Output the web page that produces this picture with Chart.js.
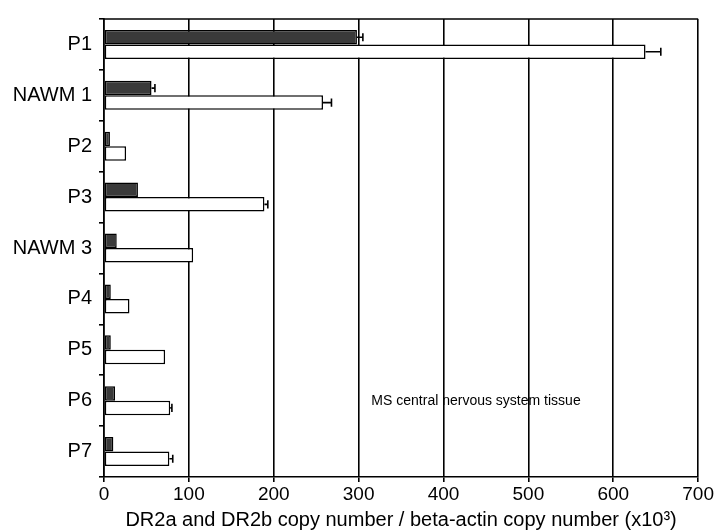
<!DOCTYPE html>
<html>
<head>
<meta charset="utf-8">
<script src="https://cdn.jsdelivr.net/npm/chart.js@4/dist/chart.umd.min.js"></script>
<style>
html, body { margin: 0; padding: 0; background: #fff; }
#wrap { width: 715px; height: 532px; }
</style>
</head>
<body>
<div id="wrap"><canvas id="chart" width="715" height="532"></canvas></div>
<script>
const samples = ['P1', 'NAWM 1', 'P2', 'P3', 'NAWM 3', 'P4', 'P5', 'P6', 'P7'];
const dr2aValues = [298, 56, 7, 40, 15, 8, 8, 13, 11];
const dr2aErrors = [7, 4, 0, 0, 0, 0, 0, 0, 0];
const dr2bValues = [638, 258, 26, 189, 105, 30, 72, 78, 77];
const dr2bErrors = [18, 10, 0, 4, 0, 0, 0, 2, 4];
const xTicks = [0, 100, 200, 300, 400, 500, 600, 700];
const noteText = 'MS central nervous system tissue';
const noteAt = { x: 315, row: 'P6' };

const fontFamily = '"Liberation Sans", Arial, Helvetica, sans-serif';
Chart.defaults.color = '#000';
Chart.defaults.font.family = fontFamily;

// black whiskers to the right of each bar
const errorBars = {
  id: 'errorBars',
  afterDatasetsDraw(chart) {
    const ctx = chart.ctx;
    const xScale = chart.scales.x;
    ctx.save();
    ctx.strokeStyle = '#000';
    ctx.lineWidth = 1.6;
    chart.data.datasets.forEach((ds, di) => {
      const meta = chart.getDatasetMeta(di);
      meta.data.forEach((bar, i) => {
        const err = ds.errors[i];
        if (!err) return;
        const x0 = xScale.getPixelForValue(ds.data[i]);
        const x1 = xScale.getPixelForValue(ds.data[i] + err);
        const half = bar.height * 0.28;
        ctx.beginPath();
        ctx.moveTo(x0, bar.y);
        ctx.lineTo(x1, bar.y);
        ctx.moveTo(x1, bar.y - half);
        ctx.lineTo(x1, bar.y + half);
        ctx.stroke();
      });
    });
    ctx.restore();
  }
};

// top edge of the frame plus the text note inside the plot
const frameAndNote = {
  id: 'frameAndNote',
  afterDraw(chart) {
    const { ctx, chartArea, scales } = chart;
    ctx.save();
    ctx.strokeStyle = '#000';
    ctx.lineWidth = 1.6;
    ctx.beginPath();
    ctx.moveTo(chartArea.left, chartArea.top);
    ctx.lineTo(chartArea.right, chartArea.top);
    ctx.stroke();
    ctx.fillStyle = '#000';
    ctx.font = '14px ' + fontFamily;
    ctx.textBaseline = 'middle';
    ctx.textAlign = 'left';
    ctx.fillText(noteText, scales.x.getPixelForValue(noteAt.x), scales.y.getPixelForValue(samples.indexOf(noteAt.row)));
    ctx.restore();
  }
};

new Chart(document.getElementById('chart'), {
  type: 'bar',
  data: {
    labels: samples,
    datasets: [
      {
        label: 'DR2a',
        data: dr2aValues,
        errors: dr2aErrors,
        backgroundColor: '#3a3a3a',
        borderColor: '#000',
        borderWidth: 1.5,
        borderSkipped: false
      },
      {
        label: 'DR2b',
        data: dr2bValues,
        errors: dr2bErrors,
        backgroundColor: '#fff',
        borderColor: '#000',
        borderWidth: 1.5,
        borderSkipped: false
      }
    ]
  },
  options: {
    indexAxis: 'y',
    responsive: false,
    animation: false,
    categoryPercentage: 0.57,
    barPercentage: 1.0,
    layout: { padding: { top: 14, right: 15, left: 0, bottom: 0 } },
    plugins: {
      legend: { display: false },
      tooltip: { enabled: false }
    },
    scales: {
      x: {
        min: 0,
        max: 700,
        afterBuildTicks: scale => { scale.ticks = xTicks.map(v => ({ value: v })); },
        afterFit: scale => { scale.height = 55; },
        ticks: { font: { size: 19 }, padding: 1, color: '#000' },
        grid: { color: '#000', lineWidth: 1.6, tickLength: 5 },
        border: { color: '#000', width: 1.6 },
        title: {
          display: true,
          text: 'DR2a and DR2b copy number / beta-actin copy number (x10³)',
          font: { size: 20 },
          color: '#000',
          padding: { top: 0, bottom: 0 }
        }
      },
      y: {
        afterFit: scale => { scale.width = 104; },
        ticks: { font: { size: 20 }, padding: 7, color: '#000' },
        grid: { offset: true, drawOnChartArea: false, color: '#000', lineWidth: 1.6, tickLength: 5 },
        border: { color: '#000', width: 1.6 }
      }
    }
  },
  plugins: [errorBars, frameAndNote]
});
</script>
</body>
</html>
